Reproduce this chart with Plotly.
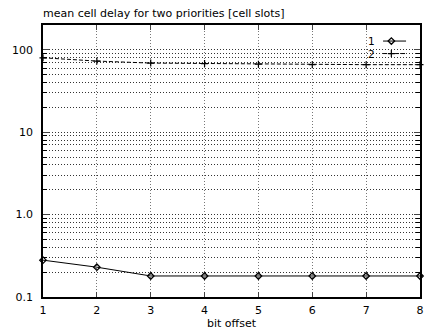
import plotly.graph_objects as go
import numpy as np

bit_offset = [1, 2, 3, 4, 5, 6, 7, 8]
delay_prio1 = [0.28, 0.23, 0.18, 0.18, 0.18, 0.18, 0.18, 0.18]
delay_prio2 = [80, 73, 69, 68, 67, 66, 66, 66]
series_names = ["1", "2"]
y_tick_vals = [0.1, 1, 10, 100]
y_tick_text = ["0.1", "1.0", "10", "100"]
title_text = "mean cell delay for two priorities [cell slots]"
x_title = "bit offset"

minor_vals = [m * d for d in [0.1, 1, 10, 100] for m in range(2, 10)] + [200]

FONT = "DejaVu Sans, Liberation Sans, sans-serif"

fig = go.Figure()
fig.add_trace(go.Scatter(
    x=bit_offset, y=delay_prio1, name=series_names[0], mode="lines+markers",
    line=dict(color="black", width=1),
    marker=dict(symbol="diamond-open", size=5, color="black", line=dict(width=1.3)),
    cliponaxis=False, showlegend=False))
fig.add_trace(go.Scatter(
    x=bit_offset, y=delay_prio2, name=series_names[1], mode="lines+markers",
    line=dict(color="black", width=1, dash="4px,2px"),
    marker=dict(symbol="cross-thin-open", size=5, color="black", line=dict(width=1.2, color="black")),
    cliponaxis=False, showlegend=False))

fig.update_layout(
    width=430, height=333,
    margin=dict(l=43, r=6, t=25, b=36),
    paper_bgcolor="white", plot_bgcolor="white",
    font=dict(family=FONT, size=11, color="black"),
    xaxis=dict(
        range=[1, 8], tickvals=bit_offset, ticks="inside", ticklen=5,
        showline=True, linecolor="black", linewidth=1.5, mirror="allticks",
        showgrid=True, gridcolor="#777", griddash="1px,2px", gridwidth=1,
        zeroline=False, tickfont=dict(size=11, family=FONT), ticklabelstandoff=2,
    ),
    yaxis=dict(
        type="log", range=[-1, np.log10(200)],
        tickvals=y_tick_vals, ticktext=y_tick_text, ticks="inside", ticklen=6,
        showline=True, linecolor="black", linewidth=1.5, mirror="allticks",
        showgrid=True, gridcolor="#333", griddash="1px,2px", gridwidth=1,
        zeroline=False, tickfont=dict(size=11, family=FONT), ticklabelstandoff=6,
        minor=dict(tickvals=minor_vals, ticks="inside", ticklen=4, tickcolor="black",
                   showgrid=True, gridcolor="#333", griddash="1px,2px", gridwidth=1),
    ),
    showlegend=False,
)

fig.add_annotation(text=title_text, xref="paper", yref="paper", x=0, y=1,
                   xanchor="left", yanchor="middle", yshift=12, xshift=-2, showarrow=False,
                   font=dict(size=11, family=FONT))
fig.add_annotation(text=x_title, xref="paper", yref="paper", x=0.5, y=0,
                   xanchor="center", yanchor="middle", yshift=-26, showarrow=False,
                   font=dict(size=11, family=FONT))

# legend (gnuplot style: label then sample)
leg_x_label = 0.884
leg_x0, leg_x1 = 0.902, 0.963
leg_mark_x = 0.924
leg_y = [0.941, 0.895]
for i, (name, yy) in enumerate(zip(series_names, leg_y)):
    fig.add_annotation(text=name, xref="paper", yref="paper", x=leg_x_label, y=yy,
                       xanchor="right", yanchor="middle", showarrow=False,
                       font=dict(size=10.5, family=FONT), borderpad=0)
    fig.add_shape(type="line", xref="paper", yref="paper", x0=leg_x0, x1=leg_x1, y0=yy, y1=yy,
                  line=dict(color="black", width=1, dash="solid" if i == 0 else "4px,2px"))
fig.add_trace(go.Scatter(x=[leg_mark_x], y=[leg_y[0]], xaxis="x2", yaxis="y2",
                         mode="markers", marker=dict(symbol="diamond-open", size=5, color="black",
                         line=dict(width=1.3)), showlegend=False, hoverinfo="skip"))
fig.add_trace(go.Scatter(x=[leg_mark_x], y=[leg_y[1]], xaxis="x2", yaxis="y2",
                         mode="markers", marker=dict(symbol="cross-thin-open", size=5, color="black",
                         line=dict(width=1.2, color="black")), showlegend=False, hoverinfo="skip"))
fig.update_layout(
    xaxis2=dict(range=[0, 1], overlaying="x", visible=False, domain=[0, 1]),
    yaxis2=dict(range=[0, 1], overlaying="y", visible=False),
)

fig.write_html("out.html")
